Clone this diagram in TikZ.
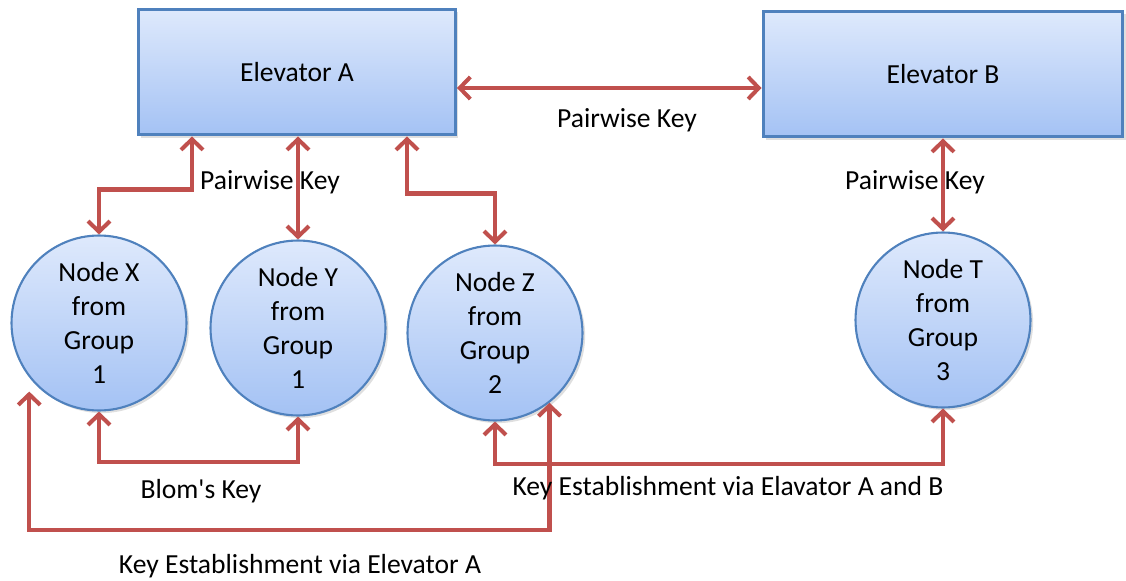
\documentclass[tikz,border=0pt]{standalone}
\usepackage{fontspec}
\setmainfont{Carlito}[Ligatures=TeXOff]
\usetikzlibrary{arrows.meta,shadows}
\definecolor{keyred}{RGB}{192,80,77}
\definecolor{boxline}{RGB}{79,129,189}
\definecolor{boxtop}{RGB}{222,233,252}
\definecolor{boxbot}{RGB}{164,194,244}
\begin{document}
\begin{tikzpicture}[x=0.02cm,y=-0.02cm,
	elev/.style={draw=boxline,line width=1.7pt,top color=boxtop,bottom color=boxbot,minimum width=6.34cm,minimum height=2.52cm,drop shadow={opacity=0.25,shadow xshift=1.5pt,shadow yshift=-1.5pt}},
	grp/.style={circle,draw=boxline,line width=1.2pt,top color=boxtop,bottom color=boxbot,minimum size=3.5cm,inner sep=0pt,align=center,drop shadow={opacity=0.25,shadow xshift=1.5pt,shadow yshift=-1.5pt}},
	key/.style={draw=keyred,line width=2.3pt,{Straight Barb[length=6pt,width=12.5pt]}-{Straight Barb[length=6pt,width=12.5pt]}},
	lbl/.style={inner sep=0pt}]
				\useasboundingbox (0,0) rectangle (1126,581);
				\fontsize{15.7}{19.4}\selectfont
				\node[elev] (A) at (297,72) {Elevator A};
				\node[elev,minimum width=7.2cm] (B) at (943,74) {Elevator B};
				\node[grp] (X) at (99,323) {Node X\\from\\Group\\1};
				\node[grp] (Y) at (298,328) {Node Y\\from\\Group\\1};
				\node[grp] (Z) at (495,333) {Node Z\\from\\Group\\2};
				\node[grp] (T) at (943,320) {Node T\\from\\Group\\3};
				% pairwise keys with the elevators
				\draw[key] (A.east |- 0,88) -- (B.west |- 0,88);
				\draw[key] (A.south -| 192,0) -- ++(0,53) -| (X.north);
				\draw[key] (A.south -| Y.north) -- (Y.north);
				\draw[key] (A.south -| 407,0) -- ++(0,57) -| (Z.north);
				\draw[key] (B.south -| T.north) -- (T.north);
				% keys between the nodes
				\draw[key] (X.south) -- ++(0,50) -| (Y.south);
				\draw[key,shorten <=8pt] (X.218) -- (X.218 |- 0,530) -| (Z.-52);
				\draw[key] (Z.south) -- ++(0,42) -| (T.south);
				\node[lbl] (pk1) at (627,120) {Pairwise Key};
				\node[lbl] (pk2) at (270,182) {Pairwise Key};
				\node[lbl] (pk3) at (915,182) {Pairwise Key};
				\node[lbl] (blom) at (201,491) {Blom's Key};
				\node[lbl] (viaA) at (300,566) {Key Establishment via Elevator A};
				\node[lbl] (viaAB) at (728,488) {Key Establishment via Elavator A and B};
			\end{tikzpicture}
\end{document}
